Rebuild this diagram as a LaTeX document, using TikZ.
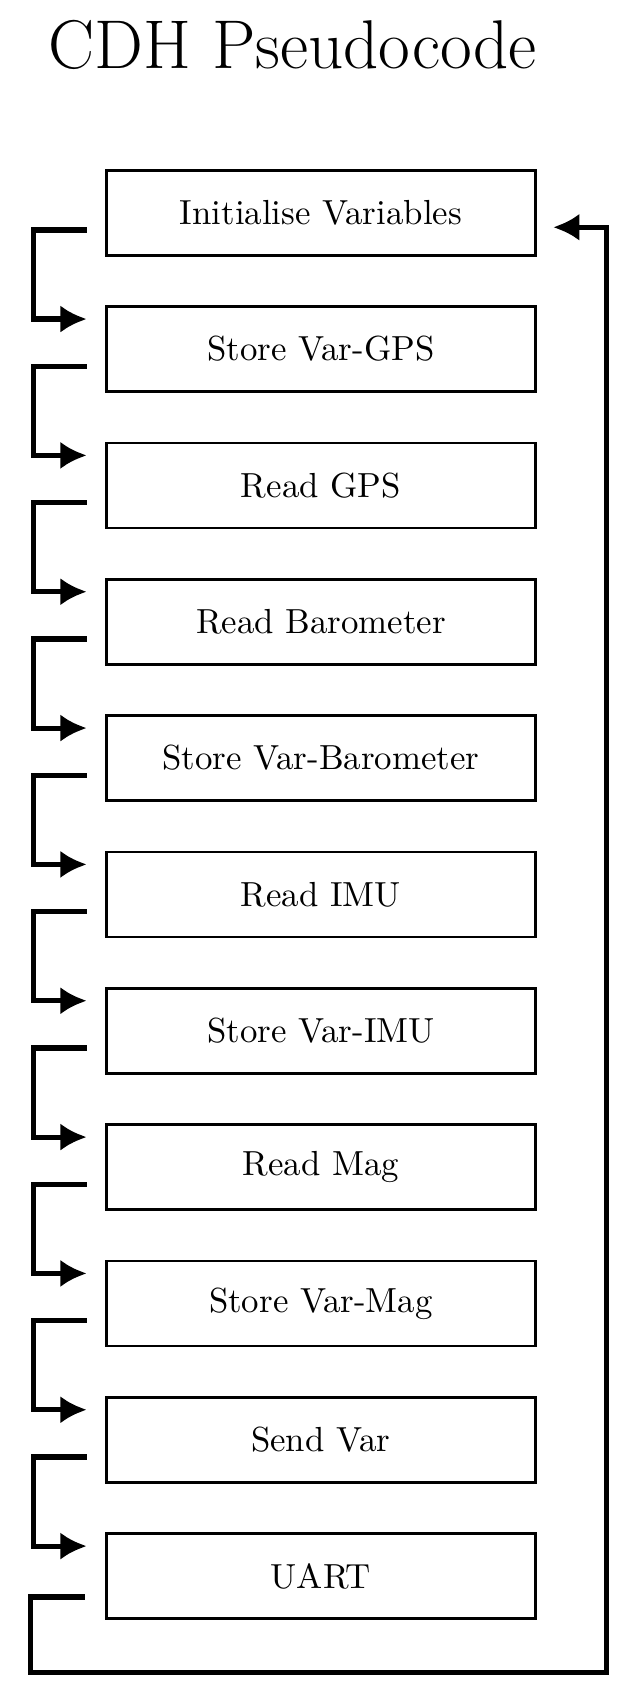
\documentclass[tikz,border=0pt]{standalone}
\usepackage{tikz}
\usetikzlibrary{positioning, chains, arrows.meta}

\begin{document}
\begin{tikzpicture}[stepbox/.style={rectangle,draw,line width=0.85pt,minimum width=4.72cm,
minimum height=0.935cm,inner sep=0pt,font=\fontsize{10.9}{13}\selectfont},
boxc/.style={stepbox,on chain},
flow/.style={line width=1.6pt,-{Latex[length=0.29cm,width=0.3cm]}}]

\useasboundingbox (0,0) rectangle (7.0,-18.79);

% title
\node[anchor=base, font=\fontsize{21.6}{26}\selectfont] (title) at (3.22,-0.75) {CDH Pseudocode};

%steps
\begin{scope}[start chain=going below,nodes=boxc,node distance=0.535cm]
\path
	node at (3.53,-2.34) (b1) {Initialise Variables}
	node (b2) {Store Var-GPS}
	node (b3) {Read GPS}
	node (b4) {Read Barometer}
	node (b5) {Store Var-Barometer}
	node (b6) {Read IMU}
	node (b7) {Store Var-IMU}
	node (b8) {Read Mag}
	node (b9) {Store Var-Mag}
	node (b10) {Send Var}
	node (b11) {UART};
\end{scope}

\foreach \i [evaluate=\i as \j using int(\i+1)] in {1,...,10}
{   % step to step
	\draw[flow] ([shift={(-0.2,-0.19)}]b\i.west) -- ++(-0.59,0)
	|- ([shift={(-0.2,0.33)}]b\j.west);
}

% back to start
\coordinate (loop) at ([shift={(0.77,-0.58)}]b11.south east);
\draw[flow] ([shift={(-0.22,-0.23)}]b11.west) -- ++(-0.6,0) |- (loop)
	|- ([shift={(0.18,-0.16)}]b1.east);
\end{tikzpicture}
\end{document}
